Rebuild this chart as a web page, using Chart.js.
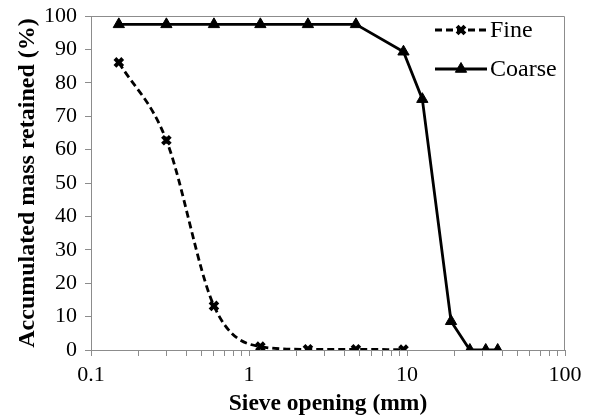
<!DOCTYPE html>
<html>
<head>
<meta charset="utf-8">
<script src="https://cdn.jsdelivr.net/npm/chart.js@4/dist/chart.umd.min.js"></script>
<style>
  html, body { margin: 0; padding: 0; background: #fff; }
  #wrap { width: 593px; height: 420px; }
</style>
</head>
<body>
<div id="wrap"><canvas id="sieveChart"></canvas></div>
<script>
// sieve openings (mm) and accumulated mass retained (%)
const fineSizes = [0.15, 0.3, 0.6, 1.18, 2.36, 4.75, 9.5]
const fineRetained = [86.1, 62.8, 13.2, 1.0, 0.2, 0.2, 0.1]

const coarseSizes = [0.15, 0.3, 0.6, 1.18, 2.36, 4.75, 9.5, 12.5, 19, 25, 31.5, 37.5]
const coarseRetained = [97.5, 97.5, 97.5, 97.5, 97.5, 97.5, 89.3, 75.1, 8.6, 0, 0, 0]

// x axis tick marks (log scale), labels only on decades
const xMajorTicks = [0.1, 1, 10, 100]
const xMinorTicks = [0.2, 0.3, 0.4, 0.5, 0.6, 0.7, 0.8, 0.9, 2, 3, 4, 5, 6, 7, 8, 9,
  20, 30, 40, 50, 60, 70, 80, 90]

const serif = "'Liberation Serif', 'Times New Roman', serif"
const axisGray = '#8c8c8c'

const toPoints = (xs, ys) => xs.map((x, i) => ({ x: x, y: ys[i] }))

// gray frame on top and right of the plot area
const frame = {
  id: 'frame',
  beforeDatasetsDraw(chart) {
    const { ctx, chartArea: a } = chart
    ctx.save()
    ctx.strokeStyle = axisGray
    ctx.lineWidth = 1
    ctx.beginPath()
    ctx.moveTo(a.left, a.top + 0.5)
    ctx.lineTo(a.right - 0.5, a.top + 0.5)
    ctx.lineTo(a.right - 0.5, a.bottom)
    ctx.stroke()
    ctx.restore()
  }
}

// legend drawn inside the plot, top right, with line samples
const insideLegend = {
  id: 'insideLegend',
  afterDraw(chart) {
    const { ctx } = chart
    const x0 = 435, len = 52
    const rows = [30, 69]
    chart.data.datasets.forEach((ds, i) => {
      const y = rows[i]
      ctx.save()
      ctx.strokeStyle = ds.borderColor
      ctx.lineWidth = ds.borderWidth
      ctx.setLineDash(ds.borderDash || [])
      ctx.beginPath()
      ctx.moveTo(x0, y)
      ctx.lineTo(x0 + len, y)
      ctx.stroke()
      ctx.setLineDash([])
      ctx.fillStyle = ds.pointBackgroundColor
      ctx.strokeStyle = ds.pointBorderColor
      ctx.lineWidth = ds.pointBorderWidth
      Chart.helpers.drawPoint(ctx, {
        pointStyle: ds.pointStyle,
        radius: ds.pointRadius,
        rotation: 0,
        borderWidth: ds.pointBorderWidth
      }, x0 + len / 2, y)
      ctx.fillStyle = '#000'
      ctx.font = '24px ' + serif
      ctx.textBaseline = 'middle'
      ctx.fillText(ds.label, x0 + len + 3, y + 1)
      ctx.restore()
    })
  }
}

new Chart(document.getElementById('sieveChart'), {
  type: 'line',
  data: {
    datasets: [
      {
        label: 'Fine',
        data: toPoints(fineSizes, fineRetained),
        borderColor: '#000',
        borderWidth: 2.8,
        borderDash: [7, 4],
        cubicInterpolationMode: 'monotone',
        pointStyle: 'crossRot',
        pointRadius: 5.5,
        pointBorderWidth: 4,
        pointBackgroundColor: '#000',
        pointBorderColor: '#000'
      },
      {
        label: 'Coarse',
        data: toPoints(coarseSizes, coarseRetained),
        borderColor: '#000',
        borderWidth: 2.8,
        tension: 0,
        pointStyle: 'triangle',
        pointRadius: 6.5,
        pointBorderWidth: 1,
        pointBackgroundColor: '#000',
        pointBorderColor: '#000'
      }
    ]
  },
  options: {
    responsive: true,
    maintainAspectRatio: false,
    animation: false,
    layout: { padding: { top: 16, right: 28, left: 0, bottom: 0 } },
    plugins: {
      legend: { display: false },
      tooltip: { enabled: false }
    },
    scales: {
      x: {
        type: 'logarithmic',
        min: 0.1,
        max: 100,
        afterBuildTicks: (scale) => {
          scale.ticks = xMajorTicks.concat(xMinorTicks).sort((a, b) => a - b).map(v => ({ value: v }))
        },
        afterFit: (scale) => { scale.height = 70 },
        border: { color: axisGray, width: 1 },
        grid: { drawOnChartArea: false, drawTicks: true, tickLength: 6, color: axisGray },
        ticks: {
          autoSkip: false,
          maxRotation: 0,
          padding: 6,
          color: '#000',
          font: { family: serif, size: 22 },
          callback: (v) => xMajorTicks.includes(v) ? String(v) : ''
        },
        title: {
          display: true,
          text: 'Sieve opening (mm)',
          color: '#000',
          font: { family: serif, size: 23.5, weight: 'bold' },
          padding: { top: 0, bottom: 2 }
        }
      },
      y: {
        min: 0,
        max: 100,
        afterFit: (scale) => {
          scale.width = 91
          scale.paddingTop = 0
          scale.paddingBottom = 0
        },
        border: { color: axisGray, width: 1 },
        grid: { drawOnChartArea: false, drawTicks: true, tickLength: 6, color: axisGray },
        ticks: {
          stepSize: 10,
          padding: 8,
          color: '#000',
          font: { family: serif, size: 22 }
        },
        title: {
          display: true,
          text: 'Accumulated mass retained (%)',
          color: '#000',
          font: { family: serif, size: 24, weight: 'bold' },
          padding: { top: 13, bottom: 0 }
        }
      }
    }
  },
  plugins: [frame, insideLegend]
})
</script>
</body>
</html>
